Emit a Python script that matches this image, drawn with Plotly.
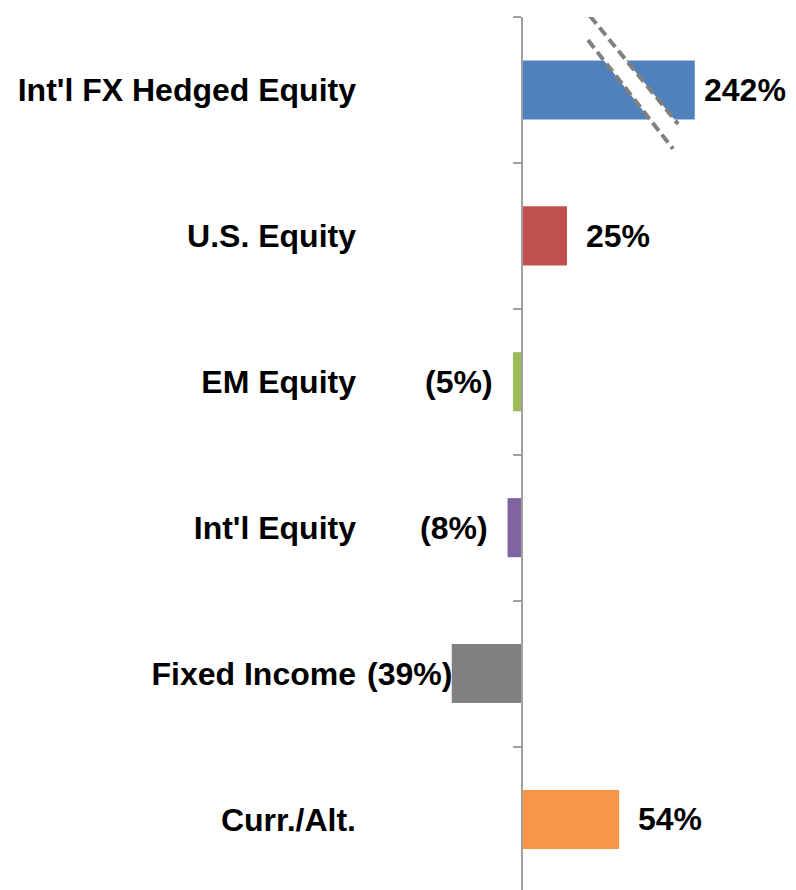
import plotly.graph_objects as go

categories = ["Int'l FX Hedged Equity", "U.S. Equity", "EM Equity", "Int'l Equity", "Fixed Income", "Curr./Alt."]
values = [242, 25, -5, -8, -39, 54]
colors = ["#4F81BD", "#C0504D", "#9BBB59", "#8064A2", "#808080", "#F79646"]
axis_break_at = 96  # bars longer than this are drawn broken

FONT = "Liberation Sans, Arial, sans-serif"
FSIZE = 32
X_MIN, X_MAX = -87.2, 147.8
# page body has an 8px default margin; compensate so plot area sits at page x 365..788, y 17..890
BODY = 8
W, H = 796 - BODY, 890 - BODY
PLOT_L, PLOT_R, PLOT_T = 365 - BODY, 8, 17 - BODY
ROW_PX = 145.9
Y_TOP = -0.5
Y_BOTTOM = Y_TOP + (H - PLOT_T) / ROW_PX

ypos = list(range(len(categories)))
shown = [min(v, axis_break_at) for v in values]

def fmt(v):
    return f"{v}%" if v >= 0 else f"({abs(v)}%)"

fig = go.Figure()
fig.add_trace(go.Bar(
    x=shown, y=ypos, orientation="h", width=0.405,
    marker=dict(color=colors, line=dict(width=0)),
    hoverinfo="skip", showlegend=False,
))
# invisible trace for the tick axis at zero
fig.add_trace(go.Scatter(x=[0], y=[0], yaxis="y2", mode="markers",
                         marker=dict(opacity=0), hoverinfo="skip", showlegend=False))

lab_font = dict(family=FONT, size=FSIZE, color="black", weight="bold")
annotations = []
plot_w = W - PLOT_L - PLOT_R
px_per_unit = plot_w / (X_MAX - X_MIN)
EST_W = 82
GAP = 17
for v, s, y in zip(values, shown, ypos):
    if v >= 0:
        left_px = (s - X_MIN) * px_per_unit + GAP
        if left_px + EST_W > plot_w:
            annotations.append(dict(x=1, xref="paper", y=y, text=fmt(v), xanchor="right", xshift=0,
                                    showarrow=False, font=lab_font))
        else:
            annotations.append(dict(x=s, y=y, text=fmt(v), xanchor="left", xshift=GAP,
                                    showarrow=False, font=lab_font))
    else:
        right_px = (s - X_MIN) * px_per_unit - 18
        if right_px - EST_W < 0:
            annotations.append(dict(x=0, xref="paper", y=y, text=fmt(v), xanchor="left", xshift=0,
                                    showarrow=False, font=lab_font))
        else:
            annotations.append(dict(x=s, y=y, text=fmt(v), xanchor="right", xshift=-18,
                                    showarrow=False, font=lab_font))

# axis break decoration on the first bar
brk_a = ((37.8, -0.507), (86.7, 0.233))
brk_b = ((36.7, -0.342), (83.9, 0.404))
shapes = [
    dict(type="path", xref="x", yref="y",
         path=f"M {brk_a[0][0]},{brk_a[0][1]} L {brk_a[1][0]},{brk_a[1][1]} L {brk_b[1][0]},{brk_b[1][1]} L {brk_b[0][0]},{brk_b[0][1]} Z",
         fillcolor="white", line=dict(width=0), layer="above"),
]
for (p0, p1) in (brk_a, brk_b):
    shapes.append(dict(type="line", xref="x", yref="y", x0=p0[0], y0=p0[1], x1=p1[0], y1=p1[1],
                       line=dict(color="#808080", width=4, dash="10px,5px"), layer="above"))

zero_pos = (0 - X_MIN) / (X_MAX - X_MIN)

fig.update_layout(
    width=W, height=H,
    margin=dict(l=PLOT_L, r=PLOT_R, t=PLOT_T, b=0, autoexpand=False),
    paper_bgcolor="white", plot_bgcolor="white",
    xaxis=dict(range=[X_MIN, X_MAX], showgrid=False, zeroline=False, showticklabels=False,
               showline=False, ticks=""),
    yaxis=dict(range=[Y_BOTTOM, Y_TOP], tickmode="array", tickvals=ypos, ticktext=categories,
               showgrid=False, zeroline=False, showline=False, ticks="", ticklabelstandoff=8,
               tickfont=lab_font, automargin=False),
    yaxis2=dict(overlaying="y", anchor="free", position=zero_pos, side="left",
                range=[Y_BOTTOM, Y_TOP], tickmode="array",
                tickvals=[i - 0.5 for i in range(len(categories) + 1)],
                showticklabels=False, ticks="outside", ticklen=8, tickwidth=2, tickcolor="#A0A0A0",
                showline=True, linecolor="#A0A0A0", linewidth=2, showgrid=False, zeroline=False),
    annotations=annotations,
    shapes=shapes,
)

fig.write_html("out.html")
